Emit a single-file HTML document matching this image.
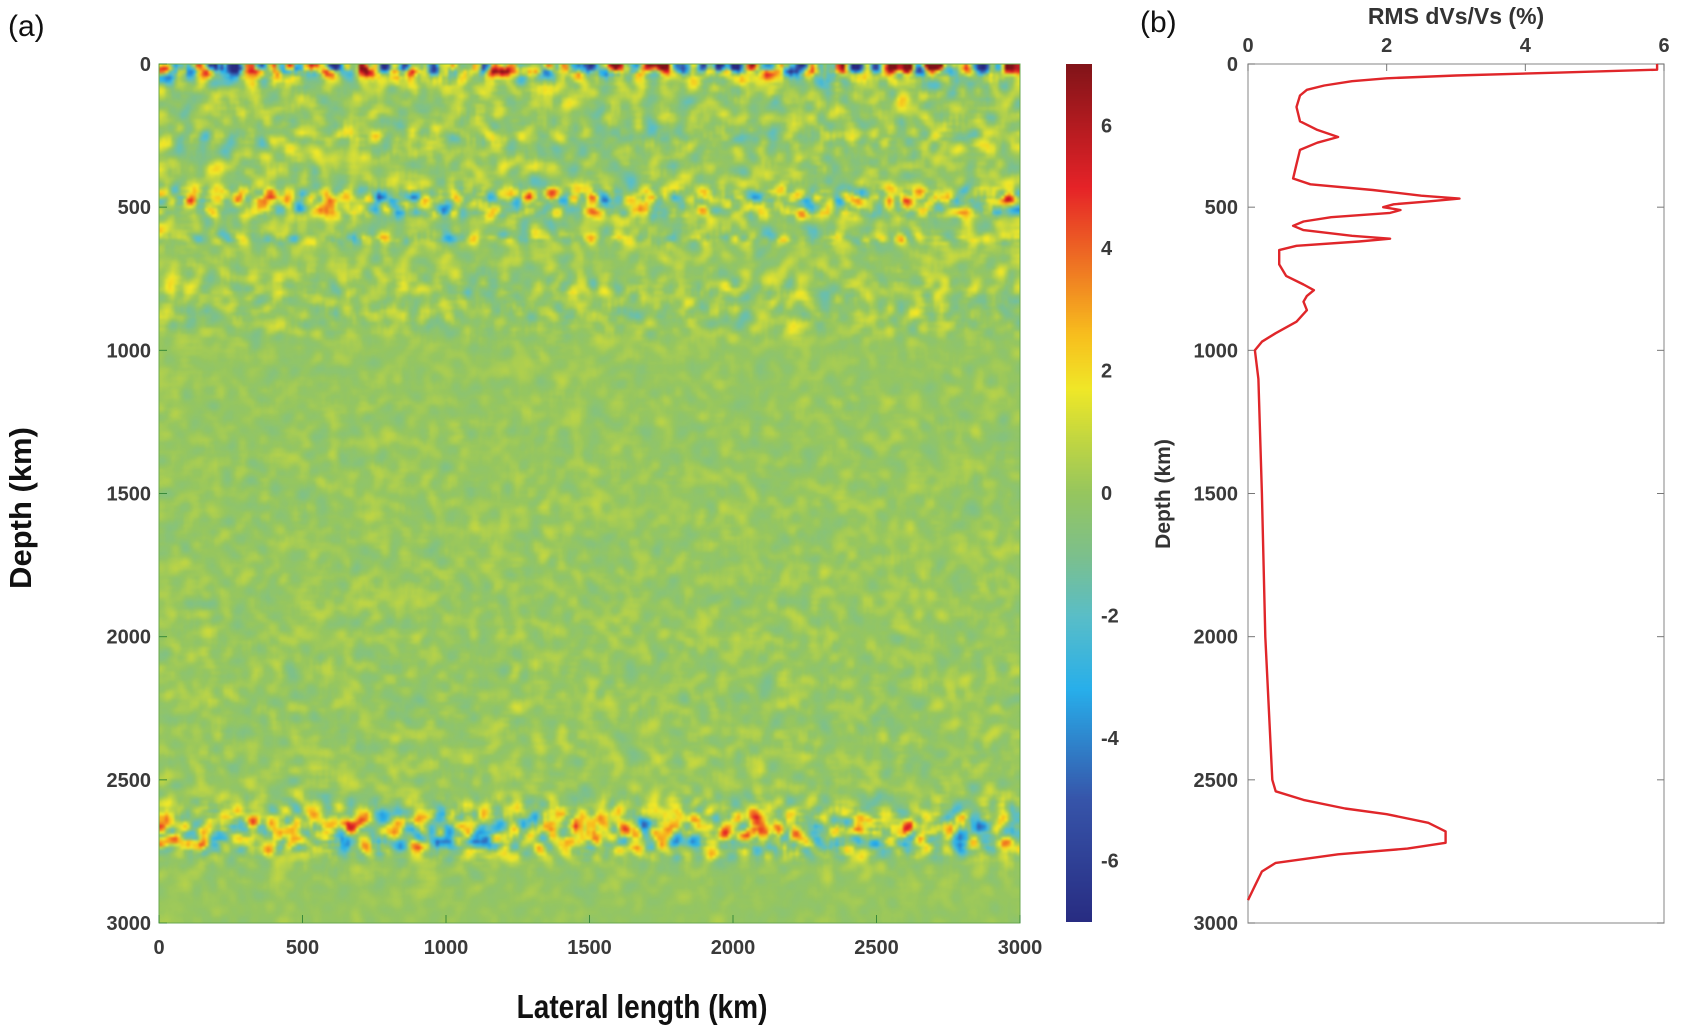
<!DOCTYPE html>
<html><head><meta charset="utf-8"><style>
html,body{margin:0;padding:0;background:#fff;}
#wrap{position:relative;width:1683px;height:1033px;overflow:hidden;font-family:"Liberation Sans",sans-serif;}
canvas{position:absolute;}
svg{position:absolute;left:0;top:0;}
text{font-family:"Liberation Sans",sans-serif;}
.tk{font-size:20px;font-weight:bold;fill:#3a3a3a;}
</style></head><body>
<div id="wrap">
<canvas id="hm" width="861" height="859" style="left:159px;top:64px"></canvas>
<canvas id="cb" width="26" height="858" style="left:1066px;top:64px"></canvas>
<svg id="svg" width="1683" height="1033"></svg>
</div>
<script>
// RMS profile data (depth km, RMS %)
const rmsDepth = [0,20,30,40,50,60,75,90,110,150,200,230,255,275,300,350,400,420,440,460,470,480,490,500,510,520,535,550,565,580,600,610,620,635,650,700,740,770,790,810,830,860,900,940,970,1000,1100,1500,2000,2500,2540,2570,2600,2620,2650,2680,2720,2740,2760,2790,2820,2870,2920];
const rmsValue = [5.9,5.9,4.5,3.0,2.0,1.5,1.1,0.85,0.75,0.7,0.75,1.0,1.3,1.0,0.75,0.7,0.65,0.9,1.8,2.5,3.05,2.6,2.1,1.95,2.2,2.05,1.2,0.8,0.65,0.8,1.5,2.05,1.6,0.7,0.45,0.45,0.55,0.8,0.95,0.85,0.8,0.85,0.7,0.4,0.2,0.1,0.15,0.2,0.25,0.35,0.4,0.8,1.4,2.0,2.6,2.85,2.85,2.3,1.3,0.4,0.2,0.1,0.0];
const xTicks = [0,500,1000,1500,2000,2500,3000];
const yTicks = [0,500,1000,1500,2000,2500,3000];
const cbTicks = [6,4,2,0,-2,-4,-6];
const rmsTicks = [0,2,4,6];

const A = {L:159,R:1020,T:64,B:923};
const Bp = {L:1248,R:1664,T:64,B:923};
const ax = v => A.L + v/3000*(A.R-A.L);
const ay = d => A.T + d/3000*(A.B-A.T);
const bx = v => Bp.L + v/6*(Bp.R-Bp.L);
const by = d => Bp.T + d/3000*(Bp.B-Bp.T);
const cby = v => 64 + (7-v)/14*858;

function rmsAt(d){
  if(d<=rmsDepth[0]) return rmsValue[0];
  for(let i=1;i<rmsDepth.length;i++){ if(d<=rmsDepth[i]){const t=(d-rmsDepth[i-1])/(rmsDepth[i]-rmsDepth[i-1]);return rmsValue[i-1]+t*(rmsValue[i]-rmsValue[i-1]);} }
  return rmsValue[rmsValue.length-1];
}
const stops=[[-7,[40,44,130]],[-5,[55,85,170]],[-3.2,[40,175,235]],[-2,[90,190,200]],[-1,[125,192,140]],[0,[150,198,95]],[0.9,[195,215,65]],[1.7,[240,232,40]],[2.6,[248,190,30]],[3.6,[240,125,35]],[5,[230,35,40]],[7,[130,20,25]]];
function cmap(v){
  if(v<=stops[0][0]) return stops[0][1];
  for(let i=1;i<stops.length;i++){ if(v<=stops[i][0]){const t=(v-stops[i-1][0])/(stops[i][0]-stops[i-1][0]);const a=stops[i-1][1],b=stops[i][1];return [a[0]+t*(b[0]-a[0]),a[1]+t*(b[1]-a[1]),a[2]+t*(b[2]-a[2])];} }
  return stops[stops.length-1][1];
}
function hash(i,j){let h=(i*374761393+j*668265263)|0;h=(h^(h>>>13))*1274126177|0;h=h^(h>>>16);return ((h>>>0)/4294967295);}
function blur(a,nx,ny,r){
  const o=new Float32Array(nx*ny);
  for(let j=0;j<ny;j++)for(let i=0;i<nx;i++){let s=0,c=0;for(let k=-r;k<=r;k++){const ii=i+k;if(ii>=0&&ii<nx){s+=a[j*nx+ii];c++;}}o[j*nx+i]=s/c;}
  const p=new Float32Array(nx*ny);
  for(let j=0;j<ny;j++)for(let i=0;i<nx;i++){let s=0,c=0;for(let k=-r;k<=r;k++){const jj=j+k;if(jj>=0&&jj<ny){s+=o[jj*nx+i];c++;}}p[j*nx+i]=s/c;}
  return p;
}
(function(){
  const nx=280, ny=280;
  let f=new Float32Array(nx*ny);
  for(let j=0;j<ny;j++)for(let i=0;i<nx;i++)f[j*nx+i]=hash(i,j)-0.5;
  f=blur(f,nx,ny,1); f=blur(f,nx,ny,1);
  let ss=0;for(let k=0;k<f.length;k++)ss+=f[k]*f[k];const sd=Math.sqrt(ss/f.length);
  const sm=document.createElement('canvas'); sm.width=nx; sm.height=ny;
  const c=sm.getContext('2d'); const img=c.createImageData(nx,ny);
  for(let j=0;j<ny;j++){
    const d=(j+0.5)/ny*3000; const r=rmsAt(d);
    for(let i=0;i<nx;i++){
      const z=f[j*nx+i]/sd;
      const v=z*(0.6*r+0.15)+0.1*r;
      const col=cmap(v); const k=(j*nx+i)*4;
      img.data[k]=col[0];img.data[k+1]=col[1];img.data[k+2]=col[2];img.data[k+3]=255;
    }
  }
  c.putImageData(img,0,0);
  const m=document.getElementById('hm').getContext('2d');
  m.imageSmoothingEnabled=true; m.imageSmoothingQuality='high'; m.drawImage(sm,0,0,861,859);
  const cb=document.getElementById('cb').getContext('2d');
  for(let y=0;y<858;y++){const v=7-y/858*14;const col=cmap(v);cb.fillStyle=`rgb(${col[0]|0},${col[1]|0},${col[2]|0})`;cb.fillRect(0,y,26,1);}
})();
const S=document.getElementById('svg'), NS='http://www.w3.org/2000/svg';
function el(tag,attrs,txt){const e=document.createElementNS(NS,tag);for(const k in attrs)e.setAttribute(k,attrs[k]);if(txt!==undefined)e.textContent=txt;S.appendChild(e);return e;}
let e;
e=el('rect',{x:A.L,y:A.T,width:A.R-A.L,height:A.B-A.T,fill:'none',stroke:'#6aa84f','stroke-width':1});

xTicks.forEach(v=>{
  e=el('line',{x1:ax(v),x2:ax(v),y1:A.B,y2:A.B-8,stroke:'#3a8a3a'});
  
  e=el('text',{x:ax(v),y:A.B+31,'text-anchor':'middle',class:'tk'},v);
  
});
yTicks.forEach(v=>{
  e=el('line',{x1:A.L,x2:A.L+8,y1:ay(v),y2:ay(v),stroke:'#3a8a3a'});
  
  e=el('text',{x:A.L-8,y:ay(v)+7,'text-anchor':'end',class:'tk'},v);
  
});
cbTicks.forEach(v=>{
  e=el('text',{x:1101,y:cby(v)+7,class:'tk'},v);
  
});
e=el('text',{x:8,y:36,'font-size':'30px',fill:'#111'},'(a)');

e=el('text',{x:0,y:0,'font-size':'31px','font-weight':'bold',fill:'#111','text-anchor':'middle',transform:'translate(31,508) rotate(-90)'},'Depth (km)');

e=el('text',{x:0,y:0,'font-size':'33px','font-weight':'bold',fill:'#111','text-anchor':'middle',transform:'translate(642,1018) scale(0.85,1)'},'Lateral length (km)');

e=el('rect',{x:Bp.L,y:Bp.T,width:Bp.R-Bp.L,height:Bp.B-Bp.T,fill:'none',stroke:'#999','stroke-width':1.2});

rmsTicks.forEach(v=>{
  e=el('line',{x1:bx(v),x2:bx(v),y1:Bp.T,y2:Bp.T+7,stroke:'#777'});
  
  e=el('text',{x:bx(v),y:52,'text-anchor':'middle',class:'tk'},v);
  
});
yTicks.forEach(v=>{
  e=el('line',{x1:Bp.L,x2:Bp.L+7,y1:by(v),y2:by(v),stroke:'#777'});
  
  e=el('line',{x1:Bp.R,x2:Bp.R-7,y1:by(v),y2:by(v),stroke:'#777'});
  
  e=el('text',{x:Bp.L-10,y:by(v)+7,'text-anchor':'end',class:'tk'},v);
  
});
let dstr=rmsDepth.map((d,i)=>(i?'L':'M')+bx(rmsValue[i]).toFixed(1)+','+by(d).toFixed(1)).join(' ');
e=el('path',{d:dstr,fill:'none',stroke:'#e0262a','stroke-width':2.4,'stroke-linejoin':'round'});

e=el('text',{x:1140,y:32,'font-size':'30px',fill:'#111'},'(b)');

e=el('text',{x:1456,y:24,'font-size':'23px','font-weight':'bold',fill:'#333','text-anchor':'middle'},'RMS dVs/Vs (%)');

e=el('text',{x:0,y:0,'font-size':'21px','font-weight':'bold',fill:'#333','text-anchor':'middle',transform:'translate(1170,494) rotate(-90)'},'Depth (km)');

</script>
</body></html>
